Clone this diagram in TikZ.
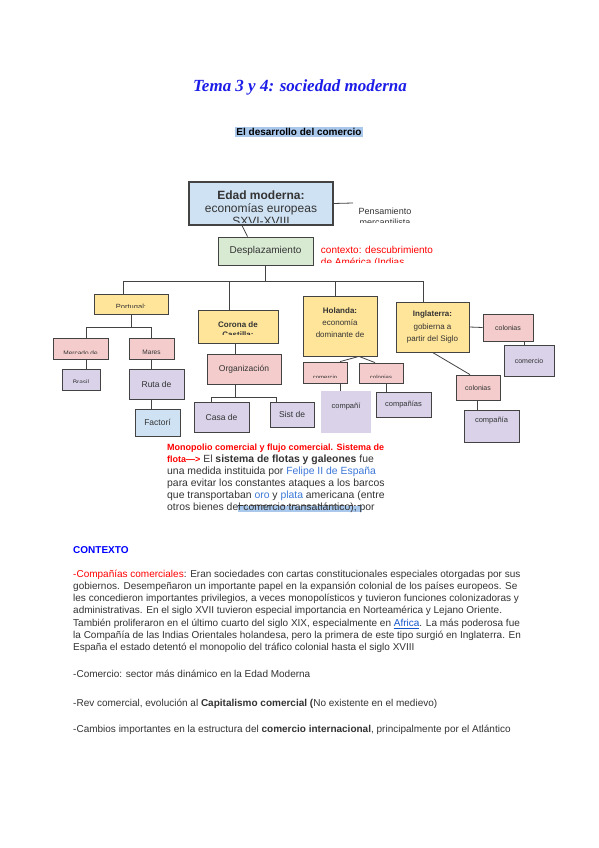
\documentclass[tikz,border=0pt]{standalone}
\usepackage{fontspec}
\setmainfont{Liberation Sans}
\newfontfamily\titlefont{Liberation Serif}
\usetikzlibrary{positioning}
\definecolor{cYellow}{HTML}{FFE599}
\definecolor{cPink}{HTML}{F4CCCC}
\definecolor{cLav}{HTML}{D9D2E9}
\definecolor{cSky}{HTML}{CFE2F3}
\definecolor{cGreen}{HTML}{D9EAD3}
\definecolor{cLine}{HTML}{434343}
\definecolor{cText}{HTML}{333333}
\definecolor{cRed}{HTML}{FF0000}
\definecolor{cLink}{HTML}{3C78D8}
\definecolor{cAfrica}{HTML}{1155CC}
\definecolor{cBlue}{HTML}{0000FF}
\definecolor{cTitle}{HTML}{1C1CE8}
\definecolor{cHl}{HTML}{A9C8EC}
\newcommand{\fz}[2]{\fontsize{#1}{#2}\selectfont}

\begin{document}
\begin{tikzpicture}[
    x=1pt, y=-1pt,
    box/.style={draw=cLine, line width=0.8pt, inner sep=1pt, align=center, text=cText},
    ybox/.style={box, fill=cYellow},
    pbox/.style={box, fill=cPink},
    lbox/.style={box, fill=cLav},
    conn/.style={draw=cLine, line width=0.8pt},
    % text cut off by the lower edge of its box
    cut/.style n args={4}{path picture={
        \clip ([yshift=#1]path picture bounding box.south west) rectangle (path picture bounding box.north east);
        \node[draw=none, fill=none, inner sep=0pt, minimum width=0pt, minimum height=0pt,
          anchor=north, align=center, text=cText, font=#3]
          at ([yshift=-#2]path picture bounding box.north) {#4};}}
  ]
  \useasboundingbox[fill=white] (0,0) rectangle (599,848);

  % heading
  \node[text=cTitle, font={\titlefont\bfseries\itshape\fz{17}{20}}] (title) at (300,87) {Tema 3 y 4: sociedad moderna};
  \node[fill=cHl, inner sep=1.5pt, font={\bfseries\fz{10}{12}}] (sub) at (299,132) {El desarrollo del comercio};

  % top of the map
  \node[box, fill=cSky, line width=1.1pt, minimum width=144, minimum height=43,
    cut={3}{8}{\fz{12}{13}}{{\bfseries Edad moderna:}\\economías europeas\\SXVI-XVIII}] (edad) at (261,203.5) {};
  \coordinate (pensl) at (353,203);
  \node[minimum width=66, minimum height=19,
    cut={1}{4}{\fz{9}{11}}{Pensamiento\\mercantilista}] (pens) at (385,213.5) {};
  \node[box, fill=cGreen, minimum width=95, minimum height=28, font={\fz{10}{12}}] (desp) at (265.5,251) {Desplazamiento};
  \node[minimum width=120, minimum height=25,
    cut={3}{4.5}{\fz{10}{12}}{\color{cRed}\begin{tabular}{@{}l@{}}contexto: descubrimiento\\de América (Indias\end{tabular}}] (ctxt) at (377,252.5) {};

  % countries
  \node[ybox, minimum width=74, minimum height=20,
    cut={7}{10}{\fz{7.5}{9}}{Portugal:}] (portugal) at (131,304) {};
  \node[ybox, minimum width=80, minimum height=33,
    cut={8.5}{11}{\bfseries\fz{8}{10.5}}{Corona de\\Castilla:}] (corona) at (238,326.5) {};
  \node[ybox, minimum width=74, minimum height=60,
    cut={0}{11}{\fz{8}{12}}{{\bfseries Holanda:}\\economía\\dominante de}] (holanda) at (340,326) {};
  \node[ybox, minimum width=73, minimum height=50, font={\fz{8}{12.5}}] (inglaterra) at (432.5,327) {\textbf{Inglaterra:}\\gobierna a\\partir del Siglo};

  % Portugal
  \node[pbox, minimum width=55, minimum height=21,
    cut={6}{12}{\fz{6.5}{8}}{Mercado de}] (merc) at (80.5,348.5) {};
  \node[pbox, minimum width=45, minimum height=21,
    cut={6}{12}{\fz{6.5}{8}}{Mares}] (mares) at (151.5,348.5) {};
  \node[lbox, minimum width=38, minimum height=21,
    cut={8}{10}{\fz{6.5}{8}}{Brasil}] (brasil) at (81,379.5) {};
  \node[lbox, minimum width=55, minimum height=30, font={\fz{8.5}{10}}] (ruta) at (156.5,384) {Ruta de};
  \node[box, fill=cSky, minimum width=45, minimum height=27, font={\fz{8.5}{10}}] (factoria) at (157.5,422.5) {Factorí};

  % Castilla
  \node[pbox, minimum width=74, minimum height=30, font={\fz{8.5}{10}}] (org) at (244,369) {Organización};
  \node[lbox, minimum width=55, minimum height=30, font={\fz{8.5}{10}}] (casa) at (221.5,417) {Casa de};
  \node[lbox, minimum width=44, minimum height=25, font={\fz{8.5}{10}}] (sist) at (292,414.5) {Sist de};

  % Holanda
  \node[pbox, minimum width=44, minimum height=21,
    cut={6}{12.3}{\fz{6}{8}}{comercio}] (hol1) at (325,372.5) {};
  \node[pbox, minimum width=44, minimum height=20,
    cut={6}{11.8}{\fz{6}{8}}{colonias}] (hol2) at (381,373) {};
  \node[box, draw=none, fill=cLav, minimum width=50, minimum height=42, font={\fz{7.5}{10}}] (comp1) at (346,412) {compañí\\[2pt]};
  \node[lbox, minimum width=55, minimum height=25, font={\fz{7.5}{10}}] (comp2) at (403.5,404.5) {compañías};

  % Inglaterra
  \node[pbox, minimum width=50, minimum height=27, font={\fz{7}{9}}] (col1) at (508,327.5) {colonias};
  \node[lbox, minimum width=50, minimum height=31, font={\fz{7}{9}}] (comer) at (529,360.5) {comercio};
  \node[pbox, minimum width=44, minimum height=25, font={\fz{7}{9}}] (col2) at (478,387.5) {colonias};
  \node[lbox, minimum width=55, minimum height=32, font={\fz{7.5}{10}}] (comp3) at (491.5,426) {compañía\\[2pt]};

  % connectors
  \coordinate (bus) at (0,281);
  \coordinate (bus2) at (0,327);
  \coordinate (bus3) at (0,397);
  \draw[conn] (edad.east) -- (pensl);
  \draw[conn] ([xshift=-19]edad.south) -- ([xshift=-18]desp.north);
  \draw[conn] (desp.south) -- (desp.south |- bus);
  \draw[conn] ([xshift=-8]portugal.north) |- ([xshift=-9.5]inglaterra.north |- bus) -- ([xshift=-9.5]inglaterra.north);
  \draw[conn] ([xshift=-9]corona.north) -- ([xshift=-9]corona.north |- bus);
  \draw[conn] ([xshift=-5]holanda.north) -- ([xshift=-5]holanda.north |- bus);

  \draw[conn] (portugal.south) -- (portugal.south |- bus2);
  \draw[conn] ([xshift=5.5]merc.north) |- (mares.north |- bus2) -- (mares.north);
  \draw[conn] ([xshift=5.5]merc.south) -- ([xshift=5]brasil.north);
  \draw[conn] (mares.south) -- ([xshift=-5]ruta.north);
  \draw[conn] ([xshift=-5]ruta.south) -- ([xshift=-6]factoria.north);

  \draw[conn] ([xshift=-3]corona.south) -- ([xshift=-9]org.north);
  \draw[conn] ([xshift=-9]org.south) -- ([xshift=-9]org.south |- bus3);
  \draw[conn] ([xshift=-10.5]casa.north) |- ([xshift=-16]sist.north |- bus3) -- ([xshift=-16]sist.north);

  \draw[conn] ([xshift=19]holanda.south) -- ([xshift=15]hol1.north);
  \draw[conn] ([xshift=19]holanda.south) -- ([xshift=-6]hol2.north);
  \draw[conn] ([xshift=15]hol1.south) -- ([xshift=-6]comp1.north);
  \draw[conn] ([xshift=5]hol2.south) -- ([xshift=-17.5]comp2.north);

  \draw[conn] (inglaterra.east) -- (col1.west);
  \draw[conn] ([xshift=16]col1.south) -- ([xshift=-5]comer.north);
  \draw[conn] (inglaterra.south) -- ([xshift=-8]col2.north);
  \draw[conn] ([xshift=-1]col2.south) -- ([xshift=-14.5]comp3.north);

  % text under the map
  \node[fill=cHl, minimum width=124, minimum height=6, inner sep=0pt,
    cut={0}{-6}{\bfseries\fz{10}{12}}{El desarrollo del comercio}] (dup) at (300,508.5) {};
  \node[anchor=north west, align=left, inner sep=0pt, text=cText, font={\fz{10.4}{12}}] (mono) at (167,443.5)
    {\textcolor{cRed}{\bfseries\fz{9}{12}Monopolio comercial y flujo comercial. Sistema de}\\
     \textcolor{cRed}{\bfseries\fz{9}{12}flota\textemdash>} El \textbf{sistema de flotas y galeones} fue\\
     una medida instituida por \textcolor{cLink}{Felipe II de España}\\
     para evitar los constantes ataques a los barcos\\
     que transportaban \textcolor{cLink}{oro} y \textcolor{cLink}{plata} americana (entre\\
     otros bienes del comercio transatlántico), por};

  % context
  \node[anchor=base west, inner sep=0pt, text=cBlue, font={\bfseries\fz{10}{12}}] (ctx) at (73,553) {CONTEXTO};
  \node[anchor=north west, align=left, inner sep=0pt, text=cText, font={\fz{10}{12.3}}] (para) at (73,569.5)
    {\textcolor{cRed}{-Compañías comerciales}: Eran sociedades con cartas constitucionales especiales otorgadas por sus\\
     gobiernos. Desempeñaron un importante papel en la expansión colonial de los países europeos. Se\\
     les concedieron importantes privilegios, a veces monopolísticos y tuvieron funciones colonizadoras y\\
     administrativas. En el siglo XVII tuvieron especial importancia en Norteamérica y Lejano Oriente.\\
     También proliferaron en el último cuarto del siglo XIX, especialmente en \textcolor{cAfrica}{\underline{Africa}}. La más poderosa fue\\
     la Compañía de las Indias Orientales holandesa, pero la primera de este tipo surgió en Inglaterra. En\\
     España el estado detentó el monopolio del tráfico colonial hasta el siglo XVIII};
  \node[anchor=base west, inner sep=0pt, text=cText, font={\fz{10}{12}}] (com) at (73,677)
    {-Comercio: sector más dinámico en la Edad Moderna};
  \node[anchor=base west, inner sep=0pt, text=cText, font={\fz{10}{12}}] (rev) at (73,706)
    {-Rev comercial, evolución al \textbf{Capitalismo comercial (}No existente en el medievo)};
  \node[anchor=base west, inner sep=0pt, text=cText, font={\fz{10}{12}}] (camb) at (73,732)
    {-Cambios importantes en la estructura del \textbf{comercio internacional}, principalmente por el Atlántico};
\end{tikzpicture}
\end{document}
